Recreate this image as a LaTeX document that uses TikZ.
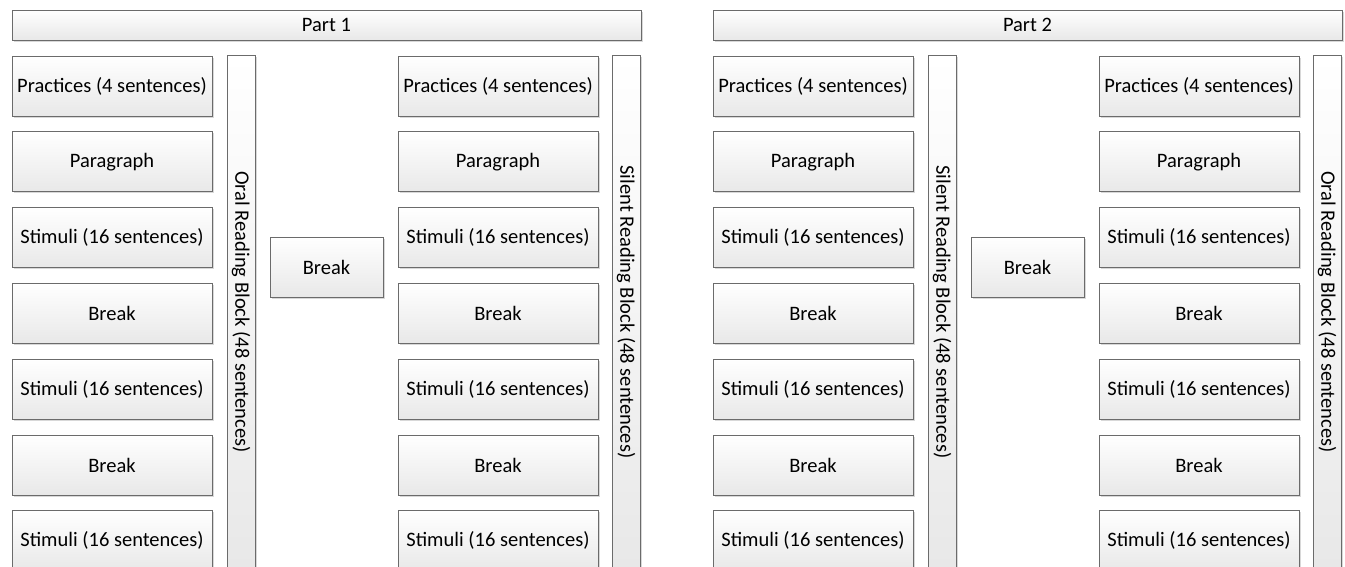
\documentclass[tikz,border=0pt]{standalone}
\usepackage{fontspec}
\setmainfont{Carlito}
\usetikzlibrary{shadows}
\tikzset{
  blk/.style={draw=black!58, line width=0.8pt, top color=white, bottom color=black!9,
    inner sep=0pt, font=\fontsize{20.5}{24}\selectfont,
    drop shadow={shadow xshift=1.6pt, shadow yshift=-1.6pt, fill=black!30, opacity=0.5}},
  stepbox/.style={blk, minimum width=200pt, minimum height=60pt},
  breakbox/.style={blk, minimum width=113pt, minimum height=60pt},
  partbar/.style={blk, minimum width=629pt, minimum height=30pt},
  blockbar/.style={blk, rotate=-90, minimum width=514pt, minimum height=28pt},
}
\begin{document}
\begin{tikzpicture}[x=1pt,y=1pt]
\useasboundingbox (0,0) rectangle (1345,-567);
\clip (0,0) rectangle (1345,-567);
\foreach \p/\off/\la/\lb in {1/0/Oral/Silent, 2/701/Silent/Oral}{
  \node[partbar] (part\p) at (326.5+\off,-25) {Part \p};
  \node[breakbox] (mid\p) at (326.5+\off,-267) {Break};
  \node[blockbar] (blkA\p) at (241+\off,-312) {\la{} Reading Block (48 sentences)};
  \node[blockbar] (blkB\p) at (626+\off,-312) {\lb{} Reading Block (48 sentences)};
  \foreach \c/\cx in {A/112, B/498}{
    \foreach \i/\t in {0/Practices (4 sentences), 1/Paragraph, 2/Stimuli (16 sentences), 3/Break, 4/Stimuli (16 sentences), 5/Break, 6/Stimuli (16 sentences)}{
      \node[stepbox] (s\p\c\i) at (\cx+\off,-86-75.8*\i) {\t};
    }
  }
}
\end{tikzpicture}
\end{document}
